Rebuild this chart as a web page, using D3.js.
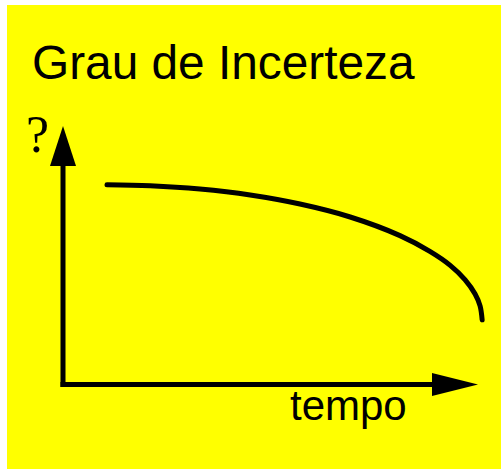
<!DOCTYPE html>
<html>
<head>
<meta charset="utf-8">
<script src="https://cdn.jsdelivr.net/npm/d3@7"></script>
<style>
  html, body { margin: 0; padding: 0; background: #fff; }
  svg { display: block; }
</style>
</head>
<body>
<svg id="chart"></svg>
<script>
// values (arbitrary units, 0..100)
var tempo = [10.6, 21.0, 33.0, 45.1, 57.1, 69.2, 81.2, 88.4, 93.3, 96.9, 99.3, 100.5, 101.0];
var incerteza = [77.3, 76.9, 75.6, 73.3, 69.8, 64.8, 57.6, 51.5, 46.1, 40.5, 35.0, 30.4, 25.0];
var titulo = "Grau de Incerteza";
var rotuloX = "tempo";
var rotuloY = "?";

var width = 501, height = 469;

var svg = d3.select("#chart")
    .attr("width", width)
    .attr("height", height);

// yellow panel
svg.append("rect")
    .attr("x", 7).attr("y", 5)
    .attr("width", width - 7).attr("height", height - 5)
    .attr("fill", "#ffff00");

var x = d3.scaleLinear().domain([0, 100]).range([63, 478]);
var y = d3.scaleLinear().domain([0, 100]).range([384.5, 126]);

// axes: plain lines with filled arrow heads
var ah = 40, aw = 13;   // head length, half width
svg.append("line")
    .attr("x1", x(0)).attr("y1", y(0) + 2.5)
    .attr("x2", x(0)).attr("y2", y(100) + ah - 1)
    .attr("stroke", "black").attr("stroke-width", 5);
svg.append("path")
    .attr("d", `M${x(0)},${y(100)} L${x(0) - aw},${y(100) + ah} L${x(0) + aw},${y(100) + ah} Z`)
    .attr("fill", "black");

var bh = 46, bw = 11.5;
svg.append("line")
    .attr("x1", x(0) - 2.5).attr("y1", y(0))
    .attr("x2", x(100) - bh + 1).attr("y2", y(0))
    .attr("stroke", "black").attr("stroke-width", 5);
svg.append("path")
    .attr("d", `M${x(100)},${y(0)} L${x(100) - bh},${y(0) - bw} L${x(100) - bh},${y(0) + bw} Z`)
    .attr("fill", "black");

// curve
var line = d3.line()
    .x(function(d, i) { return x(tempo[i]); })
    .y(function(d, i) { return y(incerteza[i]); })
    .curve(d3.curveCatmullRom.alpha(0.5));

svg.append("path")
    .datum(incerteza)
    .attr("d", line)
    .attr("fill", "none")
    .attr("stroke", "black")
    .attr("stroke-width", 5)
    .attr("stroke-linecap", "round");

// texts
svg.append("text")
    .attr("x", 32).attr("y", 79)
    .attr("font-family", "Liberation Sans, Arial, sans-serif")
    .attr("font-size", 47.8)
    .text(titulo);

svg.append("text")
    .attr("x", 290).attr("y", 420)
    .attr("font-family", "Liberation Sans, Arial, sans-serif")
    .attr("font-size", 42)
    .text(rotuloX);

svg.append("text")
    .attr("x", 26).attr("y", 152)
    .attr("font-family", "Liberation Serif, Times New Roman, serif")
    .attr("font-size", 52)
    .text(rotuloY);
</script>
</body>
</html>
